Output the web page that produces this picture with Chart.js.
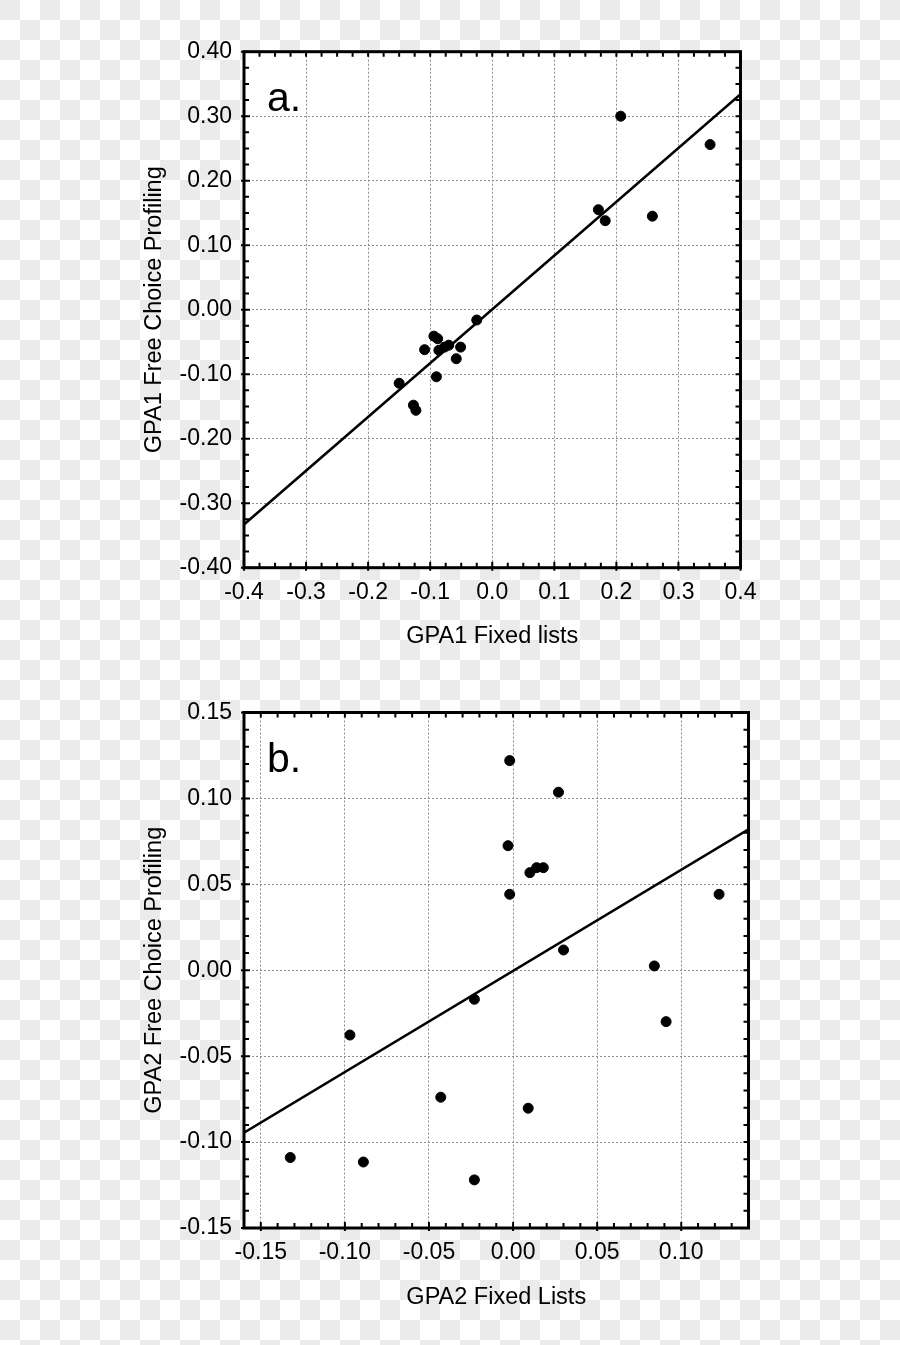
<!DOCTYPE html>
<html lang="en">
<head>
  <meta charset="UTF-8">
  <title>GPA Fixed lists vs Free Choice Profiling</title>
  <script src="https://cdn.jsdelivr.net/npm/chart.js"></script>
  <style>
    html, body {
      margin: 0;
      padding: 0;
      background: #fff;
    }
    #page {
      width: 900px;
      height: 1345px;
      position: relative;
      overflow: hidden;
      background-color: #fff;
      background-image:
        linear-gradient(45deg, #ebebeb 25%, transparent 25%, transparent 75%, #ebebeb 75%),
        linear-gradient(45deg, #ebebeb 25%, transparent 25%, transparent 75%, #ebebeb 75%);
      background-size: 40px 40px;
      background-position: 20px 0, 0 20px;
    }
    canvas {
      position: absolute;
      left: 0;
    }
    #chartA { top: 0; }
    #chartB { top: 660px; }
  </style>
</head>
<body>
  <div id="page">
    <canvas id="chartA" width="900" height="660"></canvas>
    <canvas id="chartB" width="900" height="685"></canvas>
  </div>

  <script>
    // panel a: GPA1
    const fixedA = [0.207, 0.351, 0.171, 0.182, 0.258, -0.025, -0.094, -0.088, -0.109,
                    -0.086, -0.077, -0.070, -0.051, -0.058, -0.090, -0.150, -0.127, -0.123];
    const fcpA   = [0.300, 0.256, 0.155, 0.138, 0.145, -0.016, -0.041, -0.045, -0.062,
                    -0.063, -0.058, -0.055, -0.058, -0.076, -0.104, -0.114, -0.148, -0.156];
    const fitAx = [-0.4, 0.4];
    const fitAy = [-0.333, 0.334];
    const xTicksA = [-0.4, -0.3, -0.2, -0.1, 0.0, 0.1, 0.2, 0.3, 0.4];
    const yTicksA = [-0.40, -0.30, -0.20, -0.10, 0.00, 0.10, 0.20, 0.30, 0.40];

    // panel b: GPA2
    const fixedB = [-0.002, 0.027, -0.003, 0.010, 0.014, 0.018, -0.002, 0.030, 0.084,
                    0.1225, -0.023, 0.091, -0.097, -0.043, 0.009, -0.1325, -0.089, -0.023];
    const fcpB   = [0.122, 0.1036, 0.0725, 0.0568, 0.0597, 0.0597, 0.0442, 0.0118, 0.0025,
                    0.0442, -0.0169, -0.0299, -0.0377, -0.0739, -0.0803, -0.109, -0.1116, -0.122];
    const fitBx = [-0.16, 0.14];
    const fitBy = [-0.0945, 0.082];
    const xTicksB = [-0.15, -0.10, -0.05, 0.00, 0.05, 0.10];
    const yTicksB = [-0.15, -0.10, -0.05, 0.00, 0.05, 0.10, 0.15];

    const FONT = '"Liberation Sans", Arial, sans-serif';

    // white plot area, frame, inward ticks, panel letter
    const framePlugin = {
      id: 'frame',
      beforeDraw(chart) {
        const {ctx, chartArea: a} = chart;
        ctx.save();
        ctx.fillStyle = '#fff';
        ctx.fillRect(a.left, a.top, a.width, a.height);
        ctx.restore();
      },
      afterDraw(chart, args, opts) {
        const {ctx, chartArea: a, scales: {x, y}} = chart;
        ctx.save();
        ctx.strokeStyle = '#000';
        ctx.lineWidth = 2;
        ctx.beginPath();
        const nx = Math.round((x.max - x.min) / opts.xMinor);
        for (let i = 0; i <= nx; i++) {
          const px = x.getPixelForValue(x.min + i * opts.xMinor);
          ctx.moveTo(px, a.bottom); ctx.lineTo(px, a.bottom - 5);
          ctx.moveTo(px, a.top); ctx.lineTo(px, a.top + 5);
        }
        const ny = Math.round((y.max - y.min) / opts.yMinor);
        for (let i = 0; i <= ny; i++) {
          const py = y.getPixelForValue(y.min + i * opts.yMinor);
          ctx.moveTo(a.left, py); ctx.lineTo(a.left + 5, py);
          ctx.moveTo(a.right, py); ctx.lineTo(a.right - 5, py);
        }
        x.ticks.forEach(t => {
          const px = x.getPixelForValue(t.value);
          ctx.moveTo(px, a.bottom + 3); ctx.lineTo(px, a.bottom - 6);
        });
        y.ticks.forEach(t => {
          const py = y.getPixelForValue(t.value);
          ctx.moveTo(a.left - 3, py); ctx.lineTo(a.left + 6, py);
        });
        ctx.stroke();

        ctx.lineWidth = 3;
        ctx.strokeRect(a.left, a.top, a.width, a.height);

        ctx.fillStyle = '#000';
        ctx.font = '41px ' + FONT;
        ctx.textBaseline = 'alphabetic';
        ctx.fillText(opts.letter, a.left + 23, a.top + 59);
        ctx.restore();
      }
    };

    function makeChart(el, p) {
      return new Chart(el, {
        type: 'scatter',
        data: {
          datasets: [{
            data: p.xs.map((v, i) => ({x: v, y: p.ys[i]})),
            backgroundColor: '#000',
            borderColor: '#000',
            pointRadius: 5,
            pointHoverRadius: 5
          }, {
            type: 'line',
            data: p.fitX.map((v, i) => ({x: v, y: p.fitY[i]})),
            borderColor: '#000',
            borderWidth: 2.5,
            pointRadius: 0,
            fill: false
          }]
        },
        options: {
          responsive: false,
          animation: false,
          layout: {
            padding: {left: 0, top: p.padTop, right: p.padRight, bottom: 0}
          },
          plugins: {
            legend: {display: false},
            tooltip: {enabled: false},
            frame: {letter: p.letter, xMinor: p.xMinor, yMinor: p.yMinor}
          },
          scales: {
            x: {
              type: 'linear',
              min: p.xMin,
              max: p.xMax,
              afterBuildTicks: s => { s.ticks = p.xTicks.map(v => ({value: v})); },
              afterFit: s => { s.height = p.xHeight; },
              ticks: {
                color: '#000',
                font: {family: FONT, size: 23},
                padding: 11,
                callback: v => Number(v).toFixed(p.xDec)
              },
              grid: {color: '#8c8c8c', lineWidth: 1, drawTicks: false},
              border: {display: false, dash: [2, 2]},
              title: {
                display: true,
                text: p.xTitle,
                color: '#000',
                font: {family: FONT, size: 23.5},
                padding: {top: 0, bottom: p.xTitlePad}
              }
            },
            y: {
              type: 'linear',
              min: p.yMin,
              max: p.yMax,
              afterBuildTicks: s => { s.ticks = p.yTicks.map(v => ({value: v})); },
              afterFit: s => { s.width = 244; },
              ticks: {
                color: '#000',
                font: {family: FONT, size: 23},
                padding: 12,
                callback: v => Number(v).toFixed(2)
              },
              grid: {color: '#8c8c8c', lineWidth: 1, drawTicks: false},
              border: {display: false, dash: [2, 2]},
              title: {
                display: true,
                text: p.yTitle,
                color: '#000',
                font: {family: FONT, size: 23.5},
                padding: {top: 140, bottom: 0}
              }
            }
          }
        },
        plugins: [framePlugin]
      });
    }

    document.addEventListener('DOMContentLoaded', () => {
      makeChart(document.getElementById('chartA'), {
        xs: fixedA, ys: fcpA, fitX: fitAx, fitY: fitAy,
        xTicks: xTicksA, yTicks: yTicksA, xDec: 1,
        xMin: -0.4, xMax: 0.4, yMin: -0.4, yMax: 0.4,
        xMinor: 0.025, yMinor: 0.025,
        padTop: 51.7, padRight: 159.5, xHeight: 92.3, xTitlePad: 9.7,
        letter: 'a.',
        xTitle: 'GPA1 Fixed lists',
        yTitle: 'GPA1 Free Choice Profiling'
      });
      makeChart(document.getElementById('chartB'), {
        xs: fixedB, ys: fcpB, fitX: fitBx, fitY: fitBy,
        xTicks: xTicksB, yTicks: yTicksB, xDec: 2,
        xMin: -0.16, xMax: 0.14, yMin: -0.15, yMax: 0.15,
        xMinor: 0.01, yMinor: 0.01,
        padTop: 52.5, padRight: 151.5, xHeight: 117, xTitlePad: 33.7,
        letter: 'b.',
        xTitle: 'GPA2 Fixed Lists',
        yTitle: 'GPA2 Free Choice Profiling'
      });
    });
  </script>
</body>
</html>
